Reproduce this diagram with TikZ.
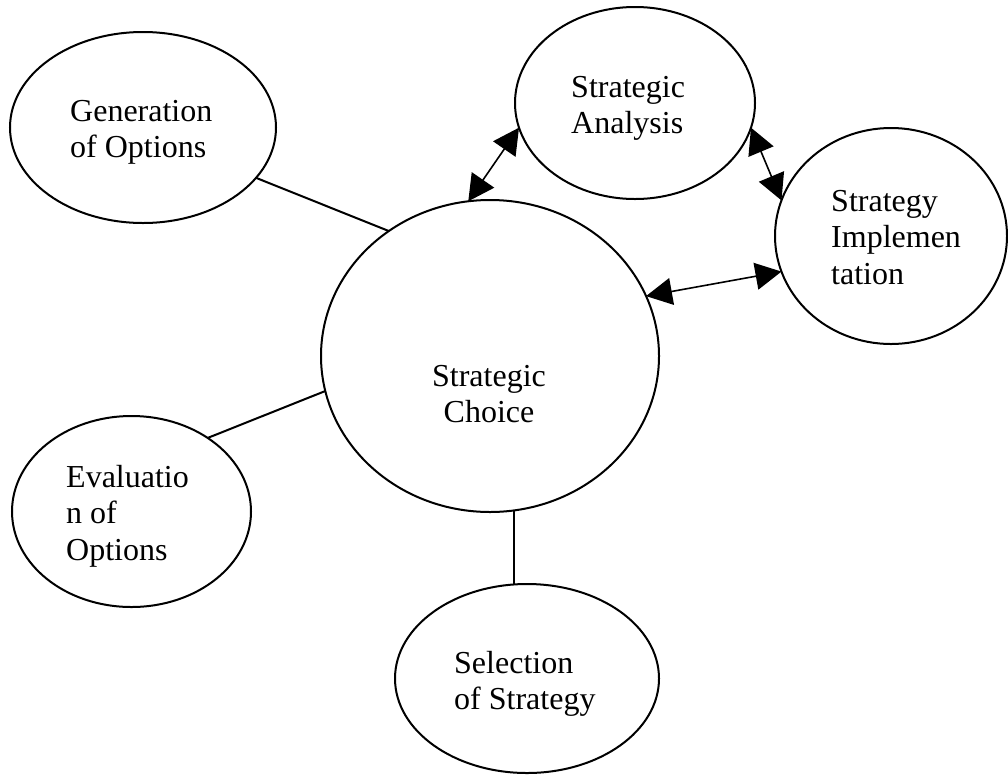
\documentclass[tikz,border=0pt]{standalone}
\usepackage{fontspec}
\setmainfont{Liberation Serif}
\usetikzlibrary{positioning,calc,arrows.meta,shapes.geometric}
\tikzset{
    every node/.style={font=\fontsize{32}{36.6}\selectfont},
    bubble/.style={draw, ellipse, line width=2pt, inner sep=0pt, outer sep=0pt},
    lbl/.style={align=left, inner sep=0pt, anchor=base west},
    link/.style={line width=2pt},
    arrow/.style={{Triangle[length=26pt,width=27pt]}-{Triangle[length=26pt,width=27pt]}, line width=1.6pt},
}

\begin{document}
\begin{tikzpicture}[x=1pt, y=-1pt]
\useasboundingbox (0,0) rectangle (1008,774);
% the big ellipse in the middle, the others are placed around it
\node[bubble, minimum width=338pt, minimum height=312pt] (choice) at (490,356) {};
\node[bubble, minimum width=266pt, minimum height=191pt] (gen) at ($(choice) + (-347,-228.5)$) {};
\node[bubble, minimum width=240pt, minimum height=192pt] (analysis) at ($(choice) + (145,-253)$) {};
\node[bubble, minimum width=232pt, minimum height=216pt] (impl) at ($(choice) + (401,-120)$) {};
\node[bubble, minimum width=239pt, minimum height=191pt] (eval) at ($(choice) + (-358.5,155.5)$) {};
\node[bubble, minimum width=264pt, minimum height=189pt] (sel) at ($(choice) + (37,322.5)$) {};
% texts sit left in the boxes, only the middle one is centred
% (base is the last line of a node)
\node[lbl, align=center, anchor=base] (choiceT) at ($(choice) + (-1,66.6)$) {Strategic\\Choice};
\node[lbl] (genT) at ($(gen) + (-73,30.1)$) {Generation\\of Options};
\node[lbl] (analysisT) at ($(analysis) + (-64,30.6)$) {Strategic\\Analysis};
\node[lbl] (implT) at ($(impl) + (-60,48.2)$) {Strategy\\Implemen\\tation};
\node[lbl] (evalT) at ($(eval) + (-65.5,48.7)$) {Evaluatio\\n of\\Options};
\node[lbl] (selT) at ($(sel) + (-73,31.1)$) {Selection\\of Strategy};
% double arrows between the three main stages
\draw[arrow] (choice.98) -- (analysis.192);
\draw[arrow] (analysis.348) -- (impl.162);
\draw[arrow] (choice.21) -- (impl.198);
% plain lines to the sub-steps
\draw[link] (gen.336) -- (choice.129);
\draw[link] (eval.44) -- (choice.192);
\draw[link] (choice.279) -- (choice.279 |- sel.north);
\end{tikzpicture}
\end{document}
